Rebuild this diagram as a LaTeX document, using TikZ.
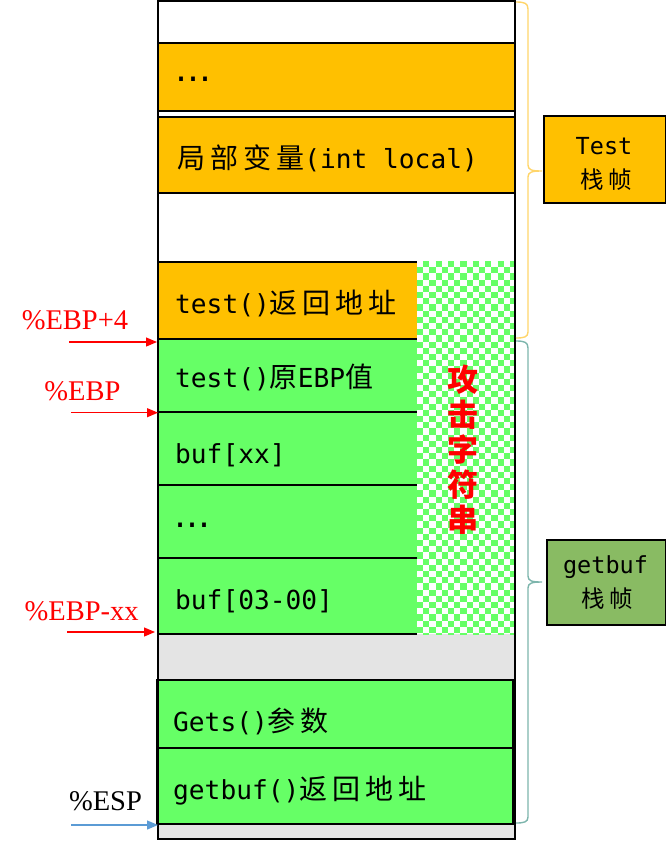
\documentclass[tikz,border=0pt]{standalone}
\usepackage{fontspec}
\setmainfont{DejaVu Sans Mono}
\newfontfamily\cjk[LetterSpace=18]{Noto Sans CJK SC}
\newfontfamily\cjkb{Noto Sans CJK SC}
\newfontfamily\lab{Liberation Serif}
\newfontfamily\mono{DejaVu Sans Mono}
\newfontfamily\dv{DejaVu Sans}
\usetikzlibrary{arrows.meta}
\definecolor{orangeC}{HTML}{FFC000}
\definecolor{greenC}{HTML}{66FF66}
\definecolor{grayC}{HTML}{E4E4E4}
\definecolor{gboxC}{HTML}{89BB63}
\definecolor{braceT}{HTML}{FFD56A}
\definecolor{braceG}{HTML}{7DB5AC}
\definecolor{blueA}{HTML}{5B9BD5}
\newcommand\lt[2]{{\mono\fontsize{#1}{#1}\selectfont #2}}
\newcommand\ct[2]{{\cjk\fontsize{#1}{#1}\selectfont #2}}
\begin{document}
\begin{tikzpicture}[x=1pt,y=-1pt,
  cellbox/.style={inner sep=0pt, outer sep=0pt, anchor=north west},
  bordered/.style={draw=black, line width=2.3pt},
  sepline/.style={draw=black, line width=2.3pt},
  celltext/.style={anchor=base west, inner sep=0pt},
  redlab/.style={text=red, font=\lab\fontsize{28.5}{28.5}\selectfont, inner sep=0pt},
  redarrow/.style={draw=red, line width=1.2pt, -{Triangle[length=11pt,width=9pt]}},
  bluearrow/.style={draw=blueA, line width=1.2pt, -{Triangle[length=11pt,width=9pt]}},
  sidebox/.style={draw=black, line width=2pt, inner sep=0pt, anchor=north west},
  sidetext/.style={anchor=base, inner sep=0pt}
]
\useasboundingbox (0,0) rectangle (666,841);

% gray background of lower part
\fill[grayC] (158,634) rectangle (515,839);

% checkered attack string column
\begin{scope}
  \clip (417,261) rectangle (515,634);
  \fill[white] (417,261) rectangle (515,634);
  \foreach \j in {0,...,60} {
    \pgfmathsetmacro\yy{261+(\j+0.5)*6.2}
    \pgfmathsetmacro\ph{mod(\j,2)==0 ? 6.2 : 0}
    \draw[line width=6.2pt, draw=greenC, dash pattern=on 6.2pt off 6.2pt, dash phase=\ph pt] (417,\yy) -- (516,\yy);
  }
\end{scope}

% orange cells of test frame
\node[cellbox, bordered, fill=orangeC, minimum width=357pt, minimum height=68pt] (dots1) at (158,43) {};
\node[cellbox, bordered, fill=orangeC, minimum width=357pt, minimum height=76pt] (local) at (158,117) {};
\node[cellbox, fill=orangeC, minimum width=259pt, minimum height=77pt] (ret) at (158,262) {};

% green cells of getbuf frame
\node[cellbox, fill=greenC, minimum width=259pt, minimum height=73pt] (ebp) at (158,339) {};
\node[cellbox, fill=greenC, minimum width=259pt, minimum height=73pt] (bufxx) at (158,412) {};
\node[cellbox, fill=greenC, minimum width=259pt, minimum height=73pt] (dots2) at (158,485) {};
\node[cellbox, fill=greenC, minimum width=259pt, minimum height=76pt] (buf00) at (158,558) {};

\draw[sepline] (ret.north west) -- (ret.north east);
\draw[sepline] (ebp.north west) -- (ebp.north east);
\draw[sepline] (bufxx.north west) -- (bufxx.north east);
\draw[sepline] (dots2.north west) -- (dots2.north east);
\draw[sepline] (buf00.north west) -- (buf00.north east);
\draw[sepline] (buf00.south west) -- (buf00.south east);

\node[cellbox, bordered, fill=greenC, minimum width=356pt, minimum height=68pt] (gets) at (157,680) {};
\node[cellbox, bordered, fill=greenC, minimum width=356pt, minimum height=76pt] (gbret) at (157,748) {};

% outer frame
\node[cellbox, draw=black, line width=2.6pt, minimum width=357pt, minimum height=838pt] (stack) at (158,1) {};

% cell texts
\node[anchor=west, inner sep=0pt, font=\dv\fontsize{36}{36}\selectfont] (t1) at (175,79.5) {…};
\node[celltext] (t2) at (177,168) {\ct{28}{局部变量}\lt{26.2}{(int local)}};
\node[celltext] (t3) at (175,313) {\lt{26.2}{test()}\ct{28}{返回地址}};
\node[celltext] (t4) at (175,387) {\lt{26.2}{test()}\ct{28}{原}\lt{26.2}{EBP}\ct{28}{值}};
\node[celltext] (t5) at (175,463) {\lt{26.2}{buf[xx]}};
\node[anchor=west, inner sep=0pt, font=\dv\fontsize{36}{36}\selectfont] (t6) at (174,525.5) {…};
\node[celltext] (t7) at (175,609) {\lt{26.2}{buf[03-00]}};
\node[celltext] (t8) at (173,731) {\lt{26.2}{Gets()}\ct{28}{参数}};
\node[celltext] (t9) at (173,799) {\lt{26.2}{getbuf()}\ct{28}{返回地址}};

% attack string
\node[text=red, align=center, inner sep=0pt, font=\cjkb\bfseries\fontsize{31}{35}\selectfont] (attack) at (463,449.5) {攻\\击\\字\\符\\串};

% left labels and arrows
\node[redlab] (l1) at (75,320.7) {\%EBP+4};
\node[redlab] (l2) at (82.5,391.7) {\%EBP};
\node[redlab] (l3) at (81.7,611) {\%EBP-xx};
\node[inner sep=0pt, font=\lab\fontsize{28.5}{28.5}\selectfont] (l4) at (105.5,801.7) {\%ESP};
\coordinate (a1s) at (69,342);   \coordinate (a1e) at (157,342);
\coordinate (a2s) at (71,412.7); \coordinate (a2e) at (158,412.7);
\coordinate (a3s) at (67,632);   \coordinate (a3e) at (155,632);
\coordinate (a4s) at (71,825);   \coordinate (a4e) at (158,825);
\draw[redarrow] (a1s) -- (a1e);
\draw[redarrow] (a2s) -- (a2e);
\draw[redarrow] (a3s) -- (a3e);
\draw[bluearrow] (a4s) -- (a4e);

% braces
\draw[braceT, line width=1.4pt] (516,2) .. controls (524,2) and (528,3) .. (528,9) -- (528,165) .. controls (528,170) and (532,171) .. (542,171) .. controls (532,171) and (528,172) .. (528,177) -- (528,332) .. controls (528,337) and (524,338) .. (516,338);
\draw[braceG, line width=1.4pt] (516,341) .. controls (524,341) and (528,342) .. (528,348) -- (528,576) .. controls (528,581) and (532,582) .. (542,582) .. controls (532,582) and (528,583) .. (528,588) -- (528,817) .. controls (528,822) and (524,823) .. (516,823);

% side boxes
\node[sidebox, fill=orangeC, minimum width=122pt, minimum height=87pt] (testbox) at (543,115) {};
\node[sidetext] (tb1) at (604,154) {\lt{23.5}{Test}};
\node[sidetext] (tb2) at (606,188) {\ct{23.5}{栈帧}};
\node[sidebox, fill=gboxC, minimum width=119pt, minimum height=85pt] (gbbox) at (546,539) {};
\node[sidetext] (gb1) at (605.5,573) {\lt{23.5}{getbuf}};
\node[sidetext] (gb2) at (607.5,607) {\ct{23.5}{栈帧}};
\end{tikzpicture}
\end{document}
